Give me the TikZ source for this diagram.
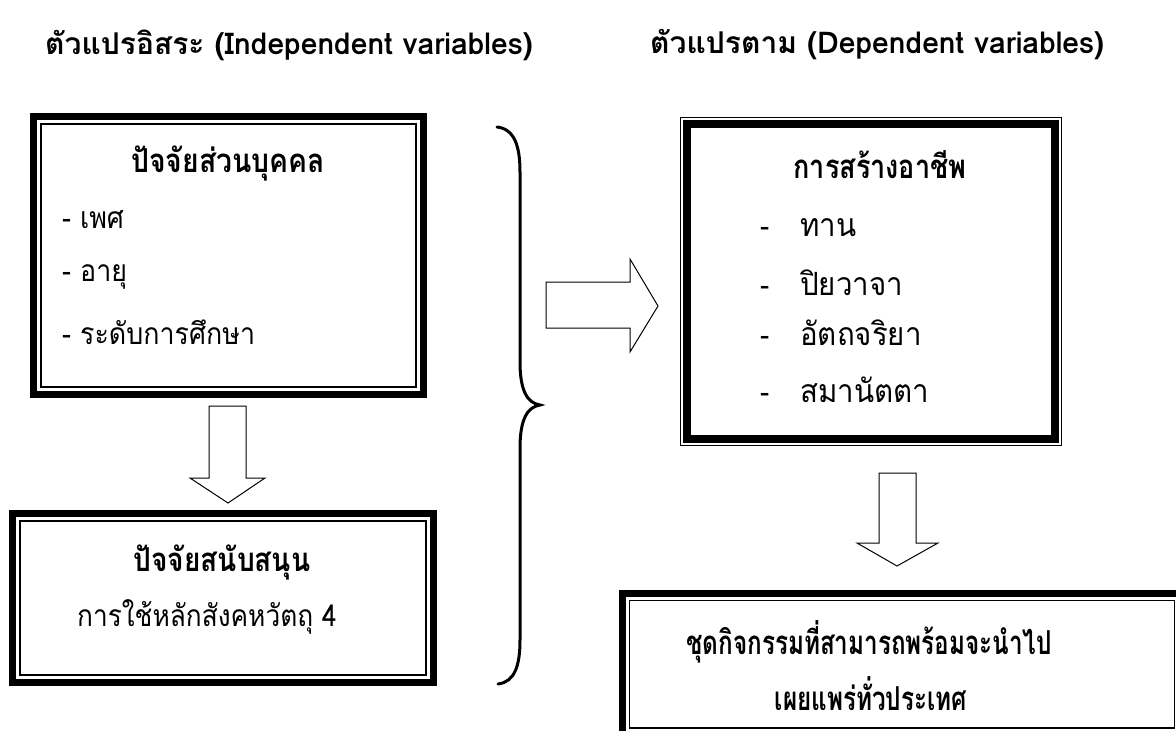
\documentclass[tikz,border=0pt]{standalone}
\usepackage{fontspec}
\setmainfont[Script=Thai]{Loma}
\newfontfamily\titlefont[Script=Thai]{Loma}
\newfontfamily\headA[Script=Thai,FakeStretch=0.858]{Loma}
\newfontfamily\headB[Script=Thai,FakeStretch=0.85]{Loma}
\newfontfamily\headC[Script=Thai,FakeStretch=0.818]{Loma}
\newfontfamily\headD[Script=Thai,FakeStretch=0.735]{Loma}
\newfontfamily\itemA[Script=Thai,FakeStretch=0.894]{Loma}
\newfontfamily\itemB[Script=Thai,FakeStretch=0.875]{Loma}
\newfontfamily\itemC[Script=Thai,FakeStretch=0.92]{Loma}
\begin{document}
\begin{tikzpicture}[x=1pt,y=-1pt,
  title/.style={font=\titlefont\bfseries\fontsize{30}{34}\selectfont, anchor=west, inner sep=0pt},
  head/.style={inner sep=0pt},
  hsize/.style={font=#1\bfseries\fontsize{33}{37}\selectfont},
  item/.style={anchor=west, inner sep=0pt},
  isize/.style={font=#1\fontsize{30}{34}\selectfont},
  area/.style={draw=none, inner sep=0pt},
  thickb/.style={line width=7.5pt},
  thinb/.style={line width=1.5pt},
  blockarrow/.style={draw, line width=1pt, fill=white, line join=miter},
  bracestyle/.style={draw, line width=3pt, line cap=round}
]
\useasboundingbox (0,0) rectangle (1176,731);
\fill[white] (0,0) rectangle (1176,731);

% titles
\node[title] (tl) at (45,45) {ตัวแปรอิสระ (Independent variables)};
\node[title] (tr) at (650,45) {ตัวแปรตาม (Dependent variables)};

% box areas
\node[area, minimum width=397pt, minimum height=285pt] (b1) at (228.5,255.5) {};
\node[area, minimum width=428pt, minimum height=176pt] (b2) at (223,598) {};
\node[area, minimum width=382pt, minimum height=329pt] (b3) at (871,281.5) {};
\node[area, minimum width=566pt, minimum height=148.5pt] (b4) at (902,664.25) {};

% box1: thick outside, thin inside
\draw[thickb] ([shift={(3.75pt,-3.75pt)}]b1.north west) rectangle ([shift={(-3.75pt,3.75pt)}]b1.south east);
\draw[thinb] ([shift={(11pt,-11pt)}]b1.north west) rectangle ([shift={(-11pt,11pt)}]b1.south east);
% box2
\draw[thickb] ([shift={(3.75pt,-3.75pt)}]b2.north west) rectangle ([shift={(-3.75pt,3.75pt)}]b2.south east);
\draw[thinb] ([shift={(11pt,-11pt)}]b2.north west) rectangle ([shift={(-11pt,11pt)}]b2.south east);
% box3: thin outside, thick inside
\draw[thinb] ([shift={(0.75pt,-0.75pt)}]b3.north west) rectangle ([shift={(-0.75pt,0.75pt)}]b3.south east);
\draw[thickb] ([shift={(7pt,-7pt)}]b3.north west) rectangle ([shift={(-7pt,7pt)}]b3.south east);
% box4: thick outside, thin inside (runs off the page)
\draw[thickb] ([shift={(3.75pt,-3.75pt)}]b4.north west) rectangle ([shift={(-3.75pt,3.75pt)}]b4.south east);
\draw[thinb] ([shift={(10.5pt,-10.5pt)}]b4.north west) rectangle ([shift={(-10.5pt,10.5pt)}]b4.south east);

% box1 text
\node[head, hsize=\headA] (h1) at (228,163) {ปัจจัยส่วนบุคคล};
\node[item, isize=\itemA] (i11) at (62,220) {- เพศ};
\node[item, isize=\itemA] (i12) at (62,277) {- อายุ};
\node[item, isize=\itemA] (i13) at (62,332) {- ระดับการศึกษา};

% box2 text
\node[head, hsize=\headB] (h2) at (222,562) {ปัจจัยสนับสนุน};
\node[item, isize=\itemB] (i21) at (77,617) {การใช้หลักสังคหวัตถุ 4};

% box3 text
\node[head, hsize=\headC] (h3) at (880,165) {การสร้างอาชีพ};
\coordinate (dx) at (760,0);
\foreach \y/\t [count=\k] in {228/ทาน, 283/ปิยวาจา, 333/อัตถจริยา, 390/สมานัตตา}{
  \node[item, font=\itemC\fontsize{32}{36}\selectfont] (i3\k) at (800,\y) {\t};
  \node[item, isize=\itemC, anchor=base west] (d3\k) at (i3\k.base -| dx) {-};
}

% box4 text
\node[head, hsize=\headD] (h4a) at (869,642) {ชุดกิจกรรมที่สามารถพร้อมจะนำไป};
\node[head, hsize=\headD] (h4b) at (871,694) {เผยแพร่ทั่วประเทศ};

% block arrows
\draw[blockarrow] (209,406) -- (246,406) -- (246,478) -- (265,478) -- (228,503) -- (190,478) -- (209,478) -- cycle;
\draw[blockarrow] (879,473) -- (916,473) -- (916,543) -- (938,543) -- (897,566) -- (857,543) -- (879,543) -- cycle;
\draw[blockarrow] (546,282) -- (630,282) -- (630,259) -- (658,306) -- (630,352) -- (630,328) -- (546,328) -- cycle;

% brace
\coordinate (bt) at (497,127);
\coordinate (bm) at (540,405);
\coordinate (bb) at (498,684);
\draw[bracestyle] (bt) .. controls (514,129) and (520,145) .. (520,172) -- (520,362)
  .. controls (520,390) and (527,403) .. (bm)
  .. controls (527,407) and (520,420) .. (520,448) -- (520,640)
  .. controls (520,665) and (515,682) .. (bb);
\end{tikzpicture}
\end{document}
